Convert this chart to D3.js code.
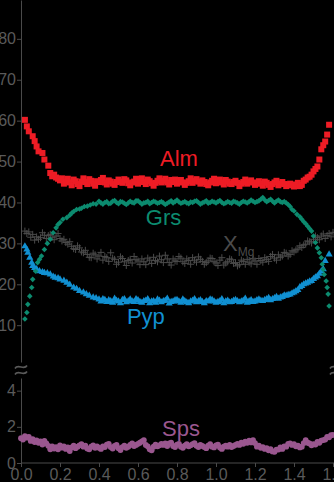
<!DOCTYPE html>
<html>
<head>
<meta charset="utf-8">
<script src="https://d3js.org/d3.v7.min.js"></script>
<style>
  body { margin: 0; background: #000; }
  svg { display: block; font-family: "Liberation Sans", Arial, sans-serif; }
</style>
</head>
<body>
<div id="chart"></div>
<script>
const W = 334, H = 482;

// distance (x) vs composition
const xTicks = [0, 0.2, 0.4, 0.6, 0.8, 1.0, 1.2, 1.4, 1.6];
const yTopTicks = [10, 20, 30, 40, 50, 60, 70, 80];
const yBotTicks = [0, 2, 4];

const alm = [[0.02,60.2],[0.03,58.6],[0.04,57.4],[0.06,56.2],[0.07,55],[0.08,53.7],[0.09,52.5],[0.11,52.1],[0.12,50.5],[0.14,49],[0.15,47.2],[0.16,46.4],[0.17,46.8],[0.18,46.1],[0.19,45.8],[0.2,45.4],[0.21,45.9],[0.22,44.6],[0.23,45.1],[0.24,45.8],[0.25,44.9],[0.26,44.2],[0.27,45.6],[0.28,45.2],[0.29,44.5],[0.3,44.0],[0.31,45.1],[0.32,45.9],[0.33,45.0],[0.34,44.5],[0.35,45.7],[0.36,45.3],[0.37,44.6],[0.38,44.1],[0.39,45.2],[0.4,45.0],[0.41,45.5],[0.42,46.0],[0.43,44.9],[0.44,44.4],[0.45,45.4],[0.46,45.1],[0.47,44.6],[0.48,44.3],[0.49,45.0],[0.5,45.6],[0.51,45.1],[0.52,44.8],[0.53,45.7],[0.54,45.4],[0.55,44.7],[0.56,44.2],[0.57,44.9],[0.58,45.1],[0.59,45.8],[0.6,44.6],[0.61,45.2],[0.62,45.9],[0.63,45.0],[0.64,44.5],[0.65,45.6],[0.66,45.2],[0.67,44.7],[0.68,44.1],[0.69,44.8],[0.7,45.3],[0.71,45.9],[0.72,44.9],[0.73,45.3],[0.74,45.8],[0.75,44.9],[0.76,44.4],[0.77,45.5],[0.78,45.0],[0.79,45.6],[0.8,44.6],[0.81,45.0],[0.82,45.5],[0.83,44.9],[0.84,44.3],[0.85,44.8],[0.86,45.2],[0.87,45.9],[0.88,44.8],[0.89,45.3],[0.9,45.7],[0.91,45.1],[0.92,44.6],[0.93,45.4],[0.94,45.0],[0.95,44.5],[0.96,44.2],[0.97,44.9],[0.98,45.3],[0.99,45.8],[1.0,44.7],[1.01,45.2],[1.02,45.6],[1.03,44.9],[1.04,44.4],[1.05,45.5],[1.06,45.1],[1.07,44.6],[1.08,44.5],[1.09,45.0],[1.1,45.3],[1.11,44.8],[1.12,44.0],[1.13,44.6],[1.14,45.0],[1.15,45.6],[1.16,44.6],[1.17,45.0],[1.18,45.4],[1.19,44.9],[1.2,44.3],[1.21,44.7],[1.22,45.2],[1.23,44.6],[1.24,44.1],[1.25,45.1],[1.26,44.8],[1.27,44.3],[1.28,43.8],[1.29,44.5],[1.3,44.9],[1.31,45.3],[1.32,44.2],[1.33,44.6],[1.34,45.0],[1.35,44.5],[1.36,44.0],[1.37,44.4],[1.38,44.6],[1.39,44.2],[1.4,43.9],[1.41,44.4],[1.42,44.8],[1.43,44.0],[1.44,44.3],[1.45,45.3],[1.46,45.6],[1.47,46.1],[1.48,46.3],[1.49,46.8],[1.5,47.6],[1.51,48.2],[1.52,48.8],[1.53,50.5],[1.54,53.0],[1.55,54.0],[1.56,54.9],[1.57,56.6],[1.58,59.0]];

const grs = [[0.02,11.5],[0.03,13.1],[0.035,15.1],[0.045,17.1],[0.055,19.2],[0.06,21.2],[0.075,23.2],[0.085,25.3],[0.095,26.1],[0.105,26.9],[0.12,28.5],[0.135,30],[0.15,31],[0.165,32.6],[0.18,33.8],[0.19,34.6],[0.2,35.1],[0.215,35.9],[0.235,36.3],[0.25,36.9],[0.26,37.4],[0.27,37.8],[0.285,38.3],[0.3,38.4],[0.31,38.6],[0.325,39.0],[0.34,39.1],[0.355,39.4],[0.37,39.7],[0.385,39.6],[0.4,40.3],[0.41,39.9],[0.42,39.6],[0.43,40.0],[0.44,40.2],[0.45,39.7],[0.46,39.8],[0.47,40.3],[0.48,40.5],[0.49,40.0],[0.5,39.7],[0.51,40.2],[0.52,40.1],[0.53,39.8],[0.54,39.5],[0.55,39.9],[0.56,40.3],[0.57,40.0],[0.58,39.9],[0.59,40.4],[0.6,40.4],[0.61,40.0],[0.62,39.6],[0.63,39.9],[0.64,40.0],[0.65,40.3],[0.66,39.7],[0.67,40.0],[0.68,40.3],[0.69,40.1],[0.7,39.8],[0.71,40.0],[0.72,40.2],[0.73,39.9],[0.74,39.5],[0.75,39.8],[0.76,40.1],[0.77,40.4],[0.78,39.9],[0.79,40.2],[0.8,40.6],[0.81,40.1],[0.82,39.8],[0.83,40.0],[0.84,40.2],[0.85,39.9],[0.86,39.7],[0.87,40.1],[0.88,40.0],[0.89,40.3],[0.9,40.4],[0.91,40.0],[0.92,39.6],[0.93,39.9],[0.94,40.1],[0.95,40.4],[0.96,39.8],[0.97,40.0],[0.98,40.3],[0.99,40.1],[1.0,39.9],[1.01,40.2],[1.02,40.5],[1.03,40.0],[1.04,39.7],[1.05,39.9],[1.06,40.2],[1.07,40.0],[1.08,39.8],[1.09,40.3],[1.1,40.1],[1.11,39.9],[1.12,39.6],[1.13,40.0],[1.14,40.3],[1.15,40.1],[1.16,39.9],[1.17,40.2],[1.18,40.6],[1.19,40.3],[1.2,40.0],[1.21,40.2],[1.22,40.4],[1.23,40.8],[1.24,41.2],[1.25,40.6],[1.26,40.2],[1.27,40.5],[1.28,40.8],[1.29,40.3],[1.3,39.9],[1.31,40.3],[1.32,40.6],[1.33,40.2],[1.34,40.0],[1.35,40.2],[1.36,39.9],[1.37,39.5],[1.38,39.0],[1.39,38.3],[1.4,37.9],[1.415,37.1],[1.43,36.5],[1.44,35.9],[1.45,35.3],[1.46,34.8],[1.47,34.2],[1.48,33.6],[1.49,33],[1.5,31.8],[1.51,30.2],[1.52,28.9],[1.53,27.7],[1.54,26.5],[1.545,24.9],[1.55,23.6],[1.555,22.4],[1.565,20.8],[1.57,19.2],[1.575,17.6],[1.58,14.7]];

const xmg = [[0.02,33.0],[0.03,32.4],[0.04,32.8],[0.05,31.5],[0.06,32.2],[0.07,30.8],[0.08,31.6],[0.09,31.0],[0.1,31.4],[0.11,32.6],[0.12,32.0],[0.13,31.2],[0.14,31.9],[0.15,32.2],[0.16,31.5],[0.17,30.9],[0.18,31.8],[0.19,32.4],[0.2,31.2],[0.21,30.6],[0.22,31.0],[0.23,30.2],[0.24,29.8],[0.25,30.4],[0.26,29.3],[0.27,28.7],[0.28,28.5],[0.29,29.4],[0.3,28.9],[0.31,27.9],[0.32,27.7],[0.33,28.3],[0.34,27.3],[0.35,26.6],[0.36,26.5],[0.37,27.6],[0.38,27.2],[0.39,26.2],[0.4,26.9],[0.41,27.8],[0.42,25.9],[0.43,26.8],[0.44,26.5],[0.45,25.6],[0.46,27.7],[0.47,26.4],[0.48,26.1],[0.49,24.9],[0.5,25.4],[0.51,26.7],[0.52,26.3],[0.53,25.5],[0.54,24.6],[0.55,25.8],[0.56,26.1],[0.57,25.2],[0.58,26.8],[0.59,26.0],[0.6,25.7],[0.61,24.8],[0.62,26.2],[0.63,25.5],[0.64,24.8],[0.65,26.4],[0.66,25.9],[0.67,25.1],[0.68,26.6],[0.69,25.8],[0.7,25.5],[0.71,26.9],[0.72,26.0],[0.73,25.3],[0.74,27.1],[0.75,26.2],[0.76,25.3],[0.77,24.7],[0.78,26.2],[0.79,25.7],[0.8,25.6],[0.81,26.8],[0.82,26.4],[0.83,25.5],[0.84,25.1],[0.85,26.2],[0.86,25.8],[0.87,24.9],[0.88,26.5],[0.89,25.9],[0.9,25.4],[0.91,26.7],[0.92,26.1],[0.93,25.6],[0.94,24.9],[0.95,25.3],[0.96,25.7],[0.97,26.4],[0.98,26.3],[0.99,25.5],[1.0,25.2],[1.01,24.6],[1.02,25.9],[1.03,26.5],[1.04,24.7],[1.05,25.2],[1.06,25.5],[1.07,26.2],[1.08,26.0],[1.09,25.1],[1.1,25.3],[1.11,24.5],[1.12,24.8],[1.13,25.9],[1.14,25.6],[1.15,24.9],[1.16,26.1],[1.17,25.4],[1.18,25.0],[1.19,26.2],[1.2,25.7],[1.21,24.9],[1.22,26.3],[1.23,25.8],[1.24,25.4],[1.25,26.5],[1.26,26.1],[1.27,25.6],[1.28,26.8],[1.29,27.3],[1.3,26.4],[1.31,25.9],[1.32,27.2],[1.33,26.6],[1.34,26.9],[1.35,27.8],[1.36,27.6],[1.37,26.9],[1.38,27.3],[1.39,28.2],[1.4,27.9],[1.41,28.4],[1.42,28.6],[1.43,29.4],[1.44,29.0],[1.45,29.6],[1.46,29.8],[1.47,30.6],[1.48,30.4],[1.49,30.1],[1.5,31.0],[1.51,31.8],[1.52,31.4],[1.53,30.9],[1.54,31.8],[1.55,32.3],[1.56,31.2],[1.57,31.9],[1.58,32.4],[1.59,31.6],[1.6,32.7]];

const pyp = [[0.02,29.3],[0.03,28.5],[0.035,27.7],[0.045,26.5],[0.055,25.3],[0.06,24.5],[0.07,24.0],[0.08,23.7],[0.095,23.2],[0.11,23.0],[0.12,22.8],[0.135,22.7],[0.15,22.4],[0.165,21.9],[0.175,21.6],[0.19,21.5],[0.2,21.2],[0.22,20.9],[0.235,20.4],[0.25,19.9],[0.27,19.2],[0.285,18.9],[0.3,18.4],[0.32,18.0],[0.335,17.6],[0.35,17.2],[0.37,16.8],[0.385,16.6],[0.4,16.3],[0.41,15.8],[0.42,16.4],[0.43,16.2],[0.44,15.7],[0.45,16.1],[0.46,15.9],[0.47,15.5],[0.48,16.5],[0.49,16.0],[0.5,15.8],[0.51,15.4],[0.52,16.2],[0.53,16.4],[0.54,15.6],[0.55,15.9],[0.56,16.3],[0.57,15.8],[0.58,15.7],[0.59,16.4],[0.6,16.1],[0.61,15.7],[0.62,15.5],[0.63,15.9],[0.64,16.0],[0.65,16.4],[0.66,15.4],[0.67,15.8],[0.68,15.9],[0.69,15.5],[0.7,16.3],[0.71,16.0],[0.72,15.6],[0.73,15.9],[0.74,16.0],[0.75,16.5],[0.76,15.3],[0.77,15.7],[0.78,15.8],[0.79,16.1],[0.8,16.2],[0.81,15.8],[0.82,15.5],[0.83,16.3],[0.84,15.9],[0.85,15.6],[0.86,15.4],[0.87,15.8],[0.88,16.0],[0.89,16.4],[0.9,15.6],[0.91,15.9],[0.92,16.1],[0.93,15.7],[0.94,15.4],[0.95,15.9],[0.96,15.8],[0.97,16.3],[0.98,16.2],[0.99,15.8],[1.0,15.5],[1.01,15.7],[1.02,15.9],[1.03,16.4],[1.04,15.4],[1.05,15.8],[1.06,16.0],[1.07,15.6],[1.08,15.7],[1.09,16.0],[1.1,16.2],[1.11,15.9],[1.12,15.6],[1.13,15.8],[1.14,16.0],[1.15,16.5],[1.16,15.5],[1.17,15.9],[1.18,16.1],[1.19,15.7],[1.2,15.8],[1.21,16.1],[1.22,16.3],[1.23,16.0],[1.24,15.9],[1.25,16.2],[1.26,16.4],[1.27,16.7],[1.28,16.1],[1.29,16.4],[1.3,16.6],[1.31,16.9],[1.32,16.5],[1.33,16.8],[1.34,16.9],[1.35,17.3],[1.36,17.2],[1.37,17.4],[1.38,17.5],[1.39,17.8],[1.4,18.0],[1.41,18.3],[1.42,18.6],[1.43,19.3],[1.44,19.6],[1.45,20.0],[1.46,20.2],[1.47,20.4],[1.48,20.7],[1.49,20.8],[1.5,21.3],[1.51,21.7],[1.52,22.0],[1.53,22.6],[1.54,23.2],[1.55,23.7],[1.56,25.7],[1.58,27.3]];

const sps = [[0.0,1.37],[0.01,1.30],[0.02,1.49],[0.03,1.40],[0.04,1.45],[0.05,1.22],[0.06,1.32],[0.07,1.16],[0.08,1.25],[0.09,1.12],[0.1,1.20],[0.11,1.02],[0.12,1.22],[0.13,1.08],[0.14,0.95],[0.15,0.76],[0.16,0.92],[0.17,0.80],[0.18,0.88],[0.19,0.76],[0.2,0.98],[0.21,0.85],[0.22,0.92],[0.23,0.78],[0.24,0.86],[0.25,0.66],[0.26,0.86],[0.27,0.96],[0.28,0.82],[0.29,0.90],[0.3,0.98],[0.31,1.04],[0.32,0.90],[0.33,0.96],[0.34,0.80],[0.35,0.76],[0.36,0.90],[0.37,0.98],[0.38,0.84],[0.39,0.92],[0.4,0.84],[0.41,0.78],[0.42,0.92],[0.43,0.88],[0.44,1.02],[0.45,1.06],[0.46,0.88],[0.47,0.80],[0.48,0.94],[0.49,1.00],[0.5,0.82],[0.51,0.72],[0.52,0.88],[0.53,0.96],[0.54,0.84],[0.55,0.90],[0.56,1.00],[0.57,1.08],[0.58,0.94],[0.59,1.00],[0.6,1.06],[0.61,1.12],[0.62,1.20],[0.63,1.27],[0.64,1.00],[0.65,0.92],[0.66,0.76],[0.67,0.70],[0.68,0.90],[0.69,1.02],[0.7,0.92],[0.71,0.98],[0.72,1.06],[0.73,1.00],[0.74,1.08],[0.75,0.94],[0.76,1.08],[0.77,1.12],[0.78,0.94],[0.79,0.88],[0.8,1.02],[0.81,1.06],[0.82,0.90],[0.83,0.84],[0.84,0.96],[0.85,1.04],[0.86,0.92],[0.87,0.98],[0.88,1.04],[0.89,1.10],[0.9,0.95],[0.91,0.88],[0.92,1.00],[0.93,0.94],[0.94,0.88],[0.95,0.82],[0.96,0.96],[0.97,1.04],[0.98,0.90],[0.99,0.86],[1.0,0.98],[1.01,1.02],[1.02,0.86],[1.03,0.78],[1.04,0.90],[1.05,0.96],[1.06,0.90],[1.07,1.00],[1.08,0.88],[1.09,0.94],[1.1,1.00],[1.11,1.06],[1.12,1.00],[1.13,1.12],[1.14,1.06],[1.15,1.18],[1.16,1.12],[1.17,1.24],[1.18,1.14],[1.19,1.27],[1.2,1.10],[1.21,0.90],[1.22,0.96],[1.23,0.84],[1.24,0.88],[1.25,0.78],[1.26,0.82],[1.27,0.70],[1.28,0.76],[1.29,0.64],[1.3,0.62],[1.31,0.74],[1.32,0.74],[1.33,0.86],[1.34,0.78],[1.35,0.92],[1.36,0.90],[1.37,1.06],[1.38,1.09],[1.39,1.00],[1.4,1.04],[1.41,0.92],[1.42,0.96],[1.43,0.86],[1.44,0.90],[1.45,1.10],[1.46,1.27],[1.47,1.12],[1.48,1.08],[1.49,0.98],[1.5,1.04],[1.51,1.02],[1.52,1.16],[1.53,1.12],[1.54,1.24],[1.55,1.27],[1.56,1.30],[1.57,1.44],[1.58,1.42],[1.59,1.54],[1.6,1.55]];

const axisCol = "#4a4a4a", textCol = "#5a5a5a";

const x = d3.scaleLinear().domain([0, 1.6]).range([21, 333]);
const yTop = d3.scaleLinear().domain([1, 89.5]).range([362, 0]);
const yBot = d3.scaleLinear().domain([0, 4.7]).range([463, 378]);

const svg = d3.select("#chart").append("svg")
  .attr("width", W)
  .attr("height", H);

svg.append("rect").attr("width", W).attr("height", H).attr("fill", "#000");

function styleAxis(g) {
  g.selectAll("path, line").attr("stroke", axisCol).attr("stroke-width", 1);
  g.selectAll("text").attr("fill", textCol).style("font-size", "16px")
    .style("font-family", "'Liberation Sans', Arial, sans-serif");
}

svg.append("g")
  .attr("transform", `translate(0,463)`)
  .call(d3.axisBottom(x).tickValues(xTicks).tickFormat(d3.format(".1f"))
    .tickSize(4).tickSizeOuter(0).tickPadding(2))
  .call(g => g.select(".domain").attr("d", `M21,0H${W}`))
  .call(styleAxis);

svg.append("g")
  .attr("transform", `translate(21,0)`)
  .call(d3.axisLeft(yTop).tickValues(yTopTicks).tickFormat(d3.format("d"))
    .tickSize(4).tickSizeOuter(0).tickPadding(1))
  .call(styleAxis);

svg.append("g")
  .attr("transform", `translate(21,0)`)
  .call(d3.axisLeft(yBot).tickValues(yBotTicks).tickFormat(d3.format("d"))
    .tickSize(4).tickSizeOuter(0).tickPadding(1))
  .call(styleAxis);

// axis break marks
function breakMark(cx, cy) {
  const g = svg.append("g").attr("fill", "none").attr("stroke", textCol).attr("stroke-width", 1.6);
  [-3, 3].forEach(o => {
    g.append("path")
      .attr("d", `M${cx-6},${cy+o+1.5} C${cx-3},${cy+o-4} ${cx+3},${cy+o+4} ${cx+6},${cy+o-1.5}`);
  });
}
breakMark(21, 370);
breakMark(336, 370);

const plot = svg.append("g");

// XMg: plus signs
plot.append("g").selectAll("path").data(xmg).join("path")
  .attr("transform", d => `translate(${x(d[0])},${yTop(d[1])})`)
  .attr("d", "M-3.5,0H3.5M0,-3.5V3.5")
  .attr("stroke", "#4b4b4b")
  .attr("stroke-width", 1)
  .attr("fill", "none");

// Pyp: triangles
plot.append("g").selectAll("path").data(pyp).join("path")
  .attr("transform", d => `translate(${x(d[0])},${yTop(d[1])})`)
  .attr("d", d3.symbol(d3.symbolTriangle, 22))
  .attr("fill", "#1190d2");

// Grs: diamonds
plot.append("g").selectAll("path").data(grs).join("path")
  .attr("transform", d => `translate(${x(d[0])},${yTop(d[1])})`)
  .attr("d", "M0,-2.8L2.8,0L0,2.8L-2.8,0Z")
  .attr("fill", "#0c8b6f");

// Alm: squares
plot.append("g").selectAll("rect").data(alm).join("rect")
  .attr("x", d => x(d[0]) - 3)
  .attr("y", d => yTop(d[1]) - 3)
  .attr("width", 6)
  .attr("height", 6)
  .attr("fill", "#ee1c25");

// Sps: circles
plot.append("g").selectAll("circle").data(sps).join("circle")
  .attr("cx", d => x(d[0]))
  .attr("cy", d => yBot(d[1]))
  .attr("r", 2.9)
  .attr("fill", "#9a578f");

// series labels
const labels = [
  { t: "Alm", x: 0.713, y: yTop(48.8), c: "#ee1c25" },
  { t: "Grs", x: 0.64, y: yTop(34.5), c: "#0c8b6f" },
  { t: "Pyp", x: 0.543, y: yTop(10.3), c: "#1190d2" },
  { t: "Sps", x: 0.723, y: yBot(1.49), c: "#9a578f" }
];
svg.append("g").selectAll("text").data(labels).join("text")
  .attr("x", d => x(d.x))
  .attr("y", d => d.y)
  .attr("fill", d => d.c)
  .style("font-size", "22px")
  .text(d => d.t);

const xm = svg.append("text")
  .attr("x", x(1.036))
  .attr("y", yTop(28.1))
  .attr("fill", "#4b4b4b")
  .style("font-size", "22px");
xm.append("tspan").text("X");
xm.append("tspan").attr("dy", 5).style("font-size", "12px").text("Mg");
</script>
</body>
</html>
